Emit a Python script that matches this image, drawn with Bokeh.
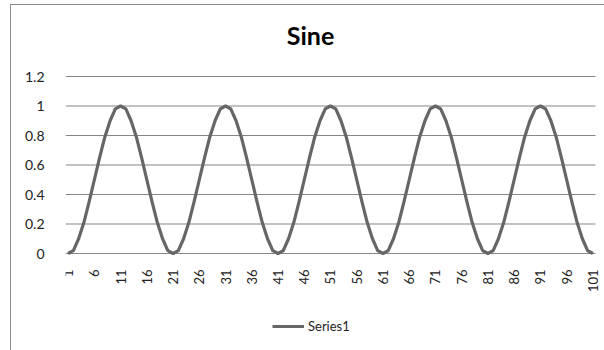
import math
from bokeh.plotting import figure
from bokeh.models import (ColumnDataSource, FixedTicker, Range1d, Legend, LegendItem, Label)
from bokeh.core.properties import value
from bokeh.embed import file_html
from bokeh.resources import INLINE

title_text = "Sine"
series_name = "Series1"

categories = list(range(1, 102))
values = [
    0.00, 0.02, 0.10, 0.21, 0.35, 0.50, 0.65, 0.79, 0.90, 0.98,
    1.00, 0.98, 0.90, 0.79, 0.65, 0.50, 0.35, 0.21, 0.10, 0.02,
    0.00, 0.02, 0.10, 0.21, 0.35, 0.50, 0.65, 0.79, 0.90, 0.98,
    1.00, 0.98, 0.90, 0.79, 0.65, 0.50, 0.35, 0.21, 0.10, 0.02,
    0.00, 0.02, 0.10, 0.21, 0.35, 0.50, 0.65, 0.79, 0.90, 0.98,
    1.00, 0.98, 0.90, 0.79, 0.65, 0.50, 0.35, 0.21, 0.10, 0.02,
    0.00, 0.02, 0.10, 0.21, 0.35, 0.50, 0.65, 0.79, 0.90, 0.98,
    1.00, 0.98, 0.90, 0.79, 0.65, 0.50, 0.35, 0.21, 0.10, 0.02,
    0.00, 0.02, 0.10, 0.21, 0.35, 0.50, 0.65, 0.79, 0.90, 0.98,
    1.00, 0.98, 0.90, 0.79, 0.65, 0.50, 0.35, 0.21, 0.10, 0.02,
    0.00,
]
x_ticks = [1, 6, 11, 16, 21, 26, 31, 36, 41, 46, 51, 56, 61, 66, 71, 76, 81, 86, 91, 96, 101]
x_tick_labels = ["1", "6", "11", "16", "21", "26", "31", "36", "41", "46", "51",
                 "56", "61", "66", "71", "76", "81", "86", "91", "96", "101"]
y_ticks = [0, 0.2, 0.4, 0.6, 0.8, 1.0, 1.2]
y_tick_labels = ["0", "0.2", "0.4", "0.6", "0.8", "1", "1.2"]

FONT = "Lato"
GRID = "#868686"
LINE = "#666666"
TXT = "#222222"

x_lo = categories[0] - 0.5
x_hi = categories[-1] + 0.5

source = ColumnDataSource(data=dict(x=categories, y=values))
tick_src = ColumnDataSource(data=dict(x=x_ticks, y=[0] * len(x_ticks), t=x_tick_labels))
grid_src = ColumnDataSource(data=dict(x0=[x_lo] * len(y_ticks), x1=[x_hi] * len(y_ticks),
                                      y=y_ticks))

# frame covers the whole height and reaches the right edge;
# value axis: 0 -> y=252px, 1.2 -> y=75px; categories 0.5..101.5 -> x=64..594px
p = figure(width=594, height=346, output_backend="svg", toolbar_location=None,
           x_axis_location=None,
           x_range=Range1d(x_lo, x_hi + 1.906), y_range=Range1d(-0.6644, 1.6814),
           min_border_left=54, min_border_right=0, min_border_top=0, min_border_bottom=0)
p.margin = (4, 0, 0, 10)
p.styles = {"border-left": "1px solid #8c8c8c", "border-top": "1px solid #8c8c8c"}
p.outline_line_color = None
p.background_fill_color = "white"
p.border_fill_color = "white"
p.xgrid.grid_line_color = None
p.ygrid.grid_line_color = None

# horizontal gridlines (and category axis line at 0) spanning the plot area
p.segment(x0="x0", y0="y", x1="x1", y1="y", source=grid_src,
          line_color=GRID, line_width=1.2)

r = p.line("x", "y", source=source, line_color=LINE, line_width=3.2, line_join="round")

# category axis labels (rotated, reading upward, hanging below the axis line)
p.text(x="x", y="y", text="t", source=tick_src, angle=math.pi / 2,
       text_align="right", text_baseline="middle", y_offset=16,
       text_font=value(FONT), text_font_size="13px", text_color=TXT)

# value axis
p.yaxis.ticker = FixedTicker(ticks=y_ticks)
p.yaxis.major_label_overrides = {t: l for t, l in zip(y_ticks, y_tick_labels)}
p.yaxis.major_label_text_font = FONT
p.yaxis.major_label_text_font_size = "14px"
p.yaxis.major_label_text_color = TXT
p.yaxis.axis_line_color = None
p.yaxis.major_tick_line_color = None
p.yaxis.minor_tick_line_color = None
p.yaxis.major_label_standoff = 15

# title
p.add_layout(Label(x=245, y=317, x_units="screen", y_units="screen", text=title_text,
                   text_font=FONT, text_font_style="bold", text_font_size="25px",
                   text_align="center", text_baseline="middle", text_color="#000000"))

legend = Legend(items=[LegendItem(label=series_name, renderers=[r])],
                location=(207, 17), orientation="horizontal",
                glyph_width=32, glyph_height=14, label_standoff=4,
                padding=0, margin=0, spacing=0,
                border_line_color=None, background_fill_alpha=0,
                label_text_font=FONT, label_text_font_size="13px", label_text_color=TXT)
p.add_layout(legend, "center")

open("out.html", "w").write(file_html(p, INLINE))
